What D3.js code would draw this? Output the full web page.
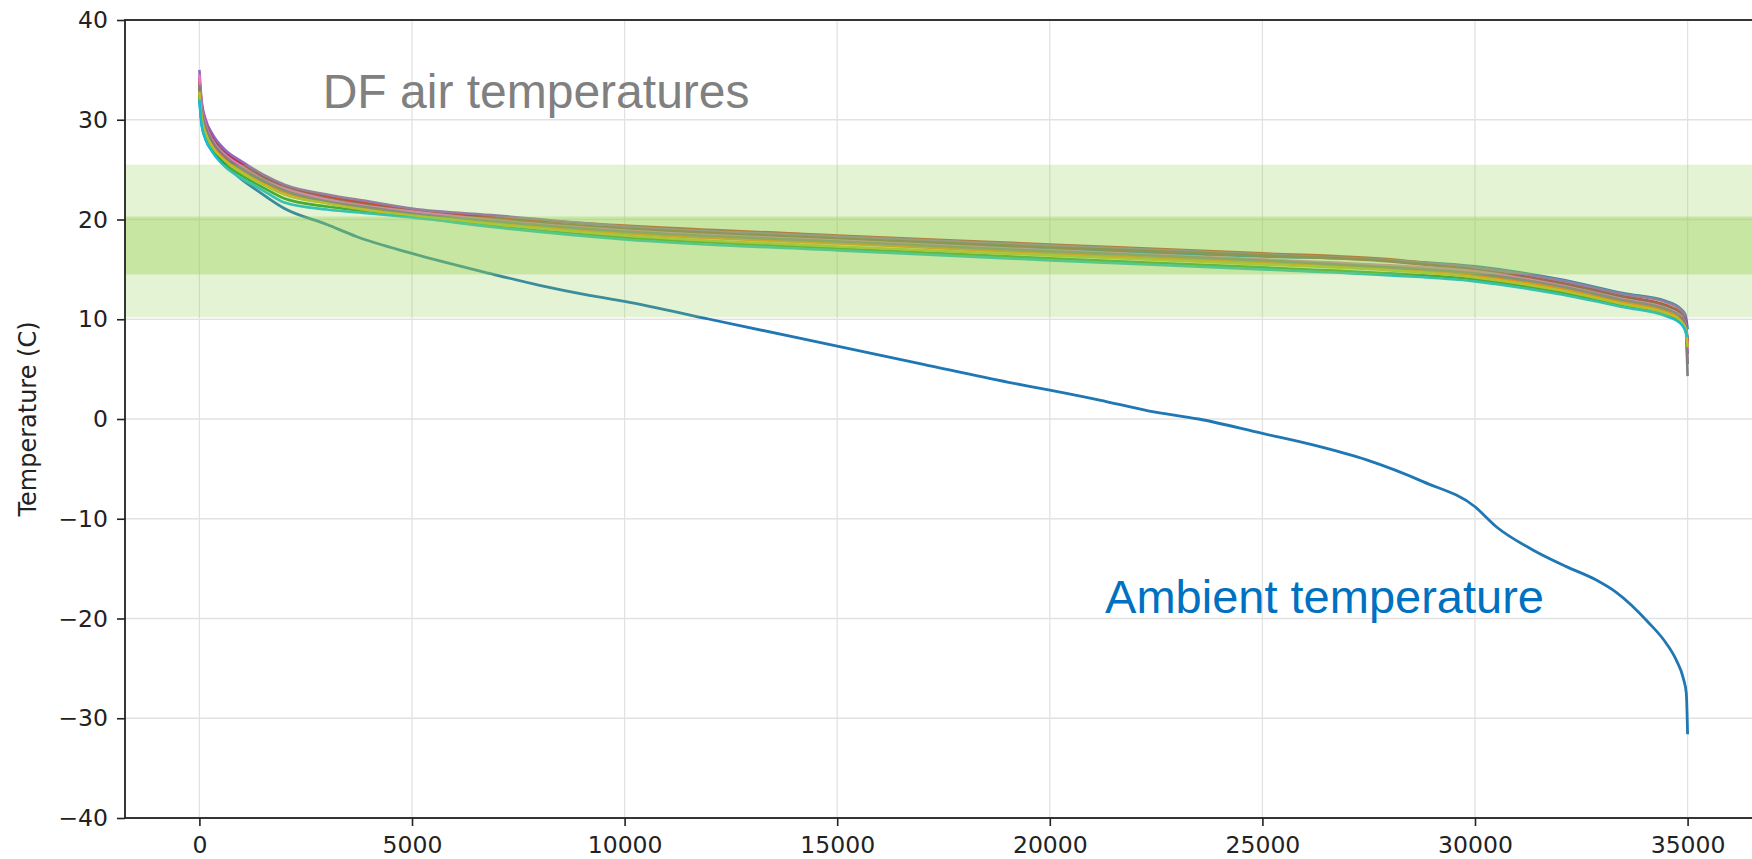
<!DOCTYPE html>
<html>
<head>
<meta charset="utf-8">
<script src="https://cdnjs.cloudflare.com/ajax/libs/d3/7.8.5/d3.min.js"></script>
<style>
  body { margin: 0; background: #fff; }
  .tick text { font-family: "DejaVu Sans", sans-serif; font-size: 23.5px; fill: #222; }
</style>
</head>
<body>
<div class="D3"></div>
<script>
//x positions (hours, sorted) used for the DF sensor curves
var dfX = [0, 50, 150, 300, 600, 1000, 1500, 2000, 3000, 4000, 5000, 7000, 10000, 15000, 20000, 25000, 28000, 30000, 32000, 33500, 34500, 34850, 34950, 35000];

//DF air temperature curves, one per sensor
var dfBlue   = [33.2, 31.0, 29.1, 27.7, 26.2, 25.0, 23.8, 22.9, 21.9, 21.2, 20.6, 19.8, 18.9, 17.9, 17.0, 16.3, 15.9, 15.3, 14.0, 12.6, 11.8, 11.0, 10.4, 9.0];
var dfOrange = [33.0, 30.6, 28.9, 27.5, 26.0, 24.8, 23.6, 22.7, 21.7, 21.0, 20.5, 19.6, 18.6, 17.6, 16.6, 15.7, 15.1, 14.4, 13.1, 11.7, 10.8, 10.0, 9.3, 8.0];
var dfGreen  = [32.5, 29.9, 28.3, 27.0, 25.6, 24.4, 23.2, 22.1, 21.3, 20.8, 20.3, 19.3, 18.2, 17.1, 16.1, 15.2, 14.6, 14.0, 12.7, 11.4, 10.5, 9.7, 9.0, 7.8];
var dfRed    = [34.2, 31.7, 29.8, 28.4, 26.8, 25.6, 24.4, 23.4, 22.3, 21.6, 21.0, 20.2, 19.4, 18.4, 17.5, 16.6, 16.0, 15.0, 13.7, 12.3, 11.4, 10.6, 10.0, 7.5];
var dfPurple = [35.0, 32.0, 30.0, 28.6, 27.0, 25.8, 24.5, 23.5, 22.5, 21.8, 21.1, 20.4, 19.3, 18.3, 17.4, 16.5, 15.9, 15.2, 13.9, 12.5, 11.7, 10.9, 10.2, 6.5];
var dfBrown  = [33.8, 31.4, 29.6, 28.2, 26.6, 25.4, 24.2, 23.2, 22.1, 21.4, 20.8, 20.0, 19.1, 18.1, 17.2, 16.4, 15.8, 14.9, 13.6, 12.2, 11.3, 10.5, 9.8, 5.5];
var dfPink   = [34.5, 31.5, 29.5, 28.0, 26.5, 25.3, 24.0, 23.1, 22.0, 21.3, 20.8, 19.9, 18.9, 17.9, 16.9, 16.0, 15.4, 14.8, 13.4, 12.0, 11.1, 10.3, 9.6, 7.0];
var dfGray   = [33.5, 31.0, 29.2, 27.8, 26.3, 25.1, 23.9, 22.9, 21.8, 21.2, 20.6, 19.8, 18.8, 17.8, 16.8, 15.9, 15.2, 14.6, 13.3, 11.9, 11.0, 10.2, 9.4, 4.3];
var dfOlive  = [32.8, 30.3, 28.6, 27.3, 25.9, 24.7, 23.5, 22.5, 21.6, 20.9, 20.4, 19.5, 18.4, 17.3, 16.4, 15.5, 14.9, 14.2, 12.9, 11.5, 10.6, 9.8, 9.1, 7.2];
var dfCyan   = [32.0, 29.5, 28.0, 26.8, 25.3, 24.1, 22.9, 21.7, 21.0, 20.6, 20.2, 19.2, 18.0, 16.9, 15.9, 15.0, 14.4, 13.8, 12.5, 11.2, 10.3, 9.5, 8.8, 8.2];

//ambient temperature duration curve
var ambX = [0, 50, 150, 300, 500, 1000, 1330, 2000, 3000, 3690, 5000, 6820, 8000, 9170, 10000, 12000, 14000, 15000, 17000, 19000, 20000, 21170, 22340, 23500, 25000, 26190, 27450, 28790, 30000, 30500, 31350, 32150, 32830, 33330, 34080, 34500, 34737, 34900, 34970, 35000];
var ambY = [32.3, 29.8, 28.0, 26.9, 26.0, 24.0, 23.0, 21.1, 19.5, 18.3, 16.6, 14.6, 13.4, 12.4, 11.8, 10.0, 8.2, 7.3, 5.5, 3.7, 2.9, 1.9, 0.8, 0.0, -1.45, -2.6, -4.1, -6.3, -8.8, -10.8, -13.1, -14.8, -16.1, -17.4, -20.4, -22.5, -24.2, -26.0, -27.5, -31.6];

//comfort bands (C)
var wideBand = [10.2, 25.5];
var narrowBand = [14.5, 20.3];

//axis ticks
var xTicks = [0, 5000, 10000, 15000, 20000, 25000, 30000, 35000];
var yTicks = [-40, -30, -20, -10, 0, 10, 20, 30, 40];

//set svg and chart dimensions
var svgWidth = 1752;
var svgHeight = 859;
var plotLeft = 125, plotRight = 1762, plotTop = 20, plotBottom = 818;

var svg = d3.select(".D3")
  .append("svg")
  .attr("width", svgWidth)
  .attr("height", svgHeight);

var x = d3.scaleLinear().domain([-1750, 36750]).range([plotLeft, plotRight]);
var y = d3.scaleLinear().domain([-40, 40]).range([plotBottom, plotTop]);

svg.append("clipPath").attr("id", "plotClip")
  .append("rect")
  .attr("x", plotLeft).attr("y", plotTop)
  .attr("width", plotRight - plotLeft).attr("height", plotBottom - plotTop);

//gridlines
var grid = svg.append("g");
grid.selectAll("line.gx").data(xTicks).enter().append("line")
  .attr("x1", d => x(d)).attr("x2", d => x(d))
  .attr("y1", plotTop).attr("y2", plotBottom)
  .attr("stroke", "#e2e2e2").attr("stroke-width", 1.3);
grid.selectAll("line.gy").data(yTicks).enter().append("line")
  .attr("x1", plotLeft).attr("x2", plotRight)
  .attr("y1", d => y(d)).attr("y2", d => y(d))
  .attr("stroke", "#e2e2e2").attr("stroke-width", 1.3);

var plot = svg.append("g").attr("clip-path", "url(#plotClip)");

var line = d3.line()
  .curve(d3.curveMonotoneX)
  .x(d => x(d[0]))
  .y(d => y(d[1]));

//ambient first, DF sensors drawn on top
plot.append("path")
  .datum(d3.zip(ambX, ambY))
  .attr("d", line)
  .attr("fill", "none")
  .attr("stroke", "#1f77b4")
  .attr("stroke-width", 2.8)
  .attr("stroke-linejoin", "round");

var dfSeries = [
  { vals: dfBlue, color: "#1f77b4" },
  { vals: dfOrange, color: "#ff7f0e" },
  { vals: dfGreen, color: "#2ca02c" },
  { vals: dfRed, color: "#d62728" },
  { vals: dfPurple, color: "#9467bd" },
  { vals: dfBrown, color: "#8c564b" },
  { vals: dfPink, color: "#e377c2" },
  { vals: dfGray, color: "#7f7f7f" },
  { vals: dfOlive, color: "#bcbd22" },
  { vals: dfCyan, color: "#17becf" }
];

plot.selectAll("path.df")
  .data(dfSeries)
  .enter()
  .append("path")
  .classed("df", true)
  .attr("d", d => line(d3.zip(dfX, d.vals)))
  .attr("fill", "none")
  .attr("stroke", d => d.color)
  .attr("stroke-width", 2.6)
  .attr("stroke-linejoin", "round");

//translucent bands sit over the curves
plot.append("rect")
  .attr("x", plotLeft).attr("width", plotRight - plotLeft)
  .attr("y", y(wideBand[1])).attr("height", y(wideBand[0]) - y(wideBand[1]))
  .attr("fill", "#92d050").attr("fill-opacity", 0.25);
plot.append("rect")
  .attr("x", plotLeft).attr("width", plotRight - plotLeft)
  .attr("y", y(narrowBand[1])).attr("height", y(narrowBand[0]) - y(narrowBand[1]))
  .attr("fill", "#92d050").attr("fill-opacity", 0.37);

//axes
var bottomAxis = d3.axisBottom(x).tickValues(xTicks).tickFormat(d3.format("d")).tickSize(8).tickPadding(10);
var leftAxis = d3.axisLeft(y).tickValues(yTicks).tickSize(8).tickPadding(9);

var xAxis = svg.append("g")
  .attr("transform", `translate(0, ${plotBottom})`)
  .call(bottomAxis);
var yAxis = svg.append("g")
  .attr("transform", `translate(${plotLeft}, 0)`)
  .call(leftAxis);

[xAxis, yAxis].forEach(function(a) {
  a.select(".domain").remove();
  a.selectAll(".tick line").attr("stroke", "#222").attr("stroke-width", 1.6);
});

//spines (right one falls outside the picture)
svg.append("rect")
  .attr("x", plotLeft).attr("y", plotTop)
  .attr("width", plotRight - plotLeft).attr("height", plotBottom - plotTop)
  .attr("fill", "none").attr("stroke", "#222").attr("stroke-width", 1.8);

//y label
svg.append("text")
  .attr("transform", `translate(36, ${(plotTop + plotBottom) / 2}) rotate(-90)`)
  .attr("text-anchor", "middle")
  .style("font-family", "DejaVu Sans, sans-serif")
  .style("font-size", "24px")
  .style("fill", "#222")
  .text("Temperature (C)");

//annotations
svg.append("text")
  .attr("x", x(2900)).attr("y", y(31.2))
  .style("font-family", "Liberation Sans, Arial, sans-serif")
  .style("font-size", "48px")
  .style("fill", "#808080")
  .text("DF air temperatures");

svg.append("text")
  .attr("x", x(21300)).attr("y", y(-19.45))
  .style("font-family", "Liberation Sans, Arial, sans-serif")
  .style("font-size", "47px")
  .style("fill", "#0070c0")
  .text("Ambient temperature");
</script>
</body>
</html>
